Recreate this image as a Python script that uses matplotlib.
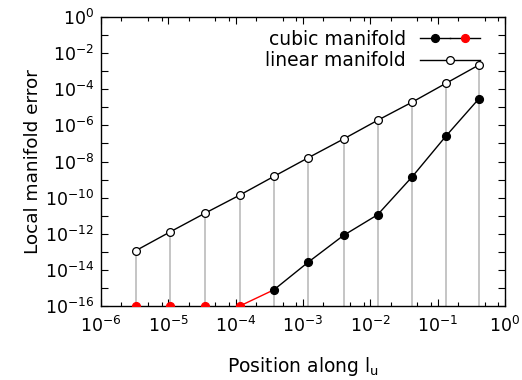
import matplotlib
matplotlib.use("Agg")
import matplotlib.pyplot as plt
from matplotlib.lines import Line2D
from matplotlib.legend_handler import HandlerTuple
from matplotlib.ticker import LogLocator, NullFormatter

# positions along l_u
pos = [3.27e-6, 1.06e-5, 3.47e-5, 1.15e-4, 3.7e-4, 1.2e-3, 4.0e-3, 1.28e-2, 4.2e-2, 0.133, 0.41]

# error of linear manifold approximation
lin_err = [1.15e-13, 1.26e-12, 1.35e-11, 1.38e-10, 1.5e-9, 1.62e-8, 1.76e-7, 1.9e-6, 1.95e-5, 2.14e-4, 2.2e-3]

# error of cubic manifold; first four sit at the floor (drawn red)
cub_pos_red = [3.27e-6, 1.06e-5, 3.47e-5, 1.15e-4]
cub_err_red = [1e-16, 1e-16, 1e-16, 1e-16]
cub_pos = [3.7e-4, 1.2e-3, 4.0e-3, 1.28e-2, 4.2e-2, 0.133, 0.41]
cub_err = [7.9e-16, 2.7e-14, 8.1e-13, 1.12e-11, 1.45e-9, 2.57e-7, 3.0e-5]

plt.rcParams["font.family"] = "DejaVu Sans"
plt.rcParams["mathtext.fontset"] = "dejavusans"

fig, ax = plt.subplots(figsize=(5.22, 3.80), dpi=100)
fig.subplots_adjust(left=0.1935, right=0.9674, top=0.9553, bottom=0.1947)

ax.set_xscale("log")
ax.set_yscale("log")
ax.set_xlim(1e-6, 1)
ax.set_ylim(1e-16, 1)

# grey drop lines
ax.vlines(pos, 1e-16, lin_err, color="#c0c0c0", linewidth=1.3, zorder=1)

ms = 5.6
ax.plot(pos, lin_err, color="black", linewidth=1.0, marker="o", markersize=ms,
        markerfacecolor="white", markeredgecolor="black", markeredgewidth=0.9, zorder=3)

ax.plot([cub_pos_red[-1], cub_pos[0]], [cub_err_red[-1], cub_err[0]], color="red", linewidth=1.0, zorder=2)
ax.plot(cub_pos_red, cub_err_red, linestyle="none", marker="o", markersize=ms,
        color="red", zorder=3)
ax.plot(cub_pos, cub_err, color="black", linewidth=1.0, marker="o", markersize=ms,
        markerfacecolor="black", zorder=3)

ax.xaxis.set_major_locator(LogLocator(base=10, numticks=20))
ax.xaxis.set_minor_locator(LogLocator(base=10, subs=(2, 5, 8), numticks=20))
ax.xaxis.set_minor_formatter(NullFormatter())
ax.yaxis.set_major_locator(LogLocator(base=100, numticks=20))
ax.yaxis.set_minor_locator(LogLocator(base=10, subs=(1.0,), numticks=40))
ax.yaxis.set_minor_formatter(NullFormatter())

ax.tick_params(which="both", direction="in", top=True, right=True, labelsize=12.5, width=0.8)
ax.tick_params(axis="x", which="major", length=5, pad=7)
ax.tick_params(axis="x", which="minor", length=3)
ax.tick_params(axis="y", which="both", length=5, pad=5)
for s in ax.spines.values():
    s.set_linewidth(1.0)

ax.set_xlabel("Position along l$_\\mathregular{u}$", fontsize=13.5, labelpad=14)
ax.set_ylabel("Local manifold error", fontsize=13.3, labelpad=2)

h_cub = (Line2D([], [], color="black", linewidth=1.0, marker="o", markersize=ms, markerfacecolor="black"),
         Line2D([], [], color="black", linewidth=1.0, marker="o", markersize=ms,
                markerfacecolor="red", markeredgecolor="red"))
h_lin = Line2D([], [], color="black", linewidth=1.0, marker="o", markersize=ms,
               markerfacecolor="white", markeredgecolor="black", markeredgewidth=0.9)
ax.legend([h_cub, h_lin], ["cubic manifold", "linear manifold"],
          handler_map={tuple: HandlerTuple(ndivide=None, pad=0)},
          loc="upper right", bbox_to_anchor=(0.98, 1.015), frameon=False, markerfirst=False,
          fontsize=13.5, handlelength=3.2, handletextpad=0.75, labelspacing=0.15)

fig.savefig("out.png", dpi=100)
